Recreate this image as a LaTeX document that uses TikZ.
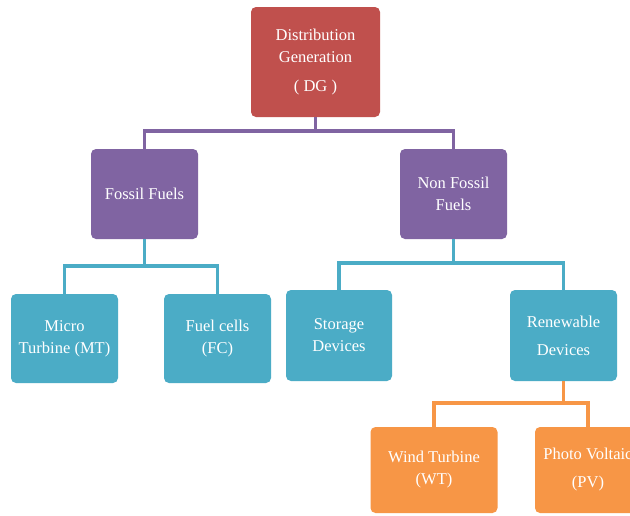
\documentclass[tikz,border=0pt]{standalone}
\usepackage{fontspec}
\setmainfont{Liberation Serif}
\definecolor{cred}{HTML}{C0504D}
\definecolor{cpurple}{HTML}{8064A2}
\definecolor{cteal}{HTML}{4BACC6}
\definecolor{corange}{HTML}{F79646}
\begin{document}
\begin{tikzpicture}[x=1pt,y=-1pt,
  box/.style={rounded corners=5pt,text=white,align=center,inner sep=0pt,
    font=\fontsize{16.5}{22}\selectfont},
  redbox/.style={box,fill=cred,minimum width=129pt,minimum height=110pt},
  purplebox/.style={box,fill=cpurple,minimum width=107pt,minimum height=90pt},
  tealbox/.style={box,fill=cteal,minimum width=107pt,minimum height=90pt},
  orangebox/.style={box,fill=corange,minimum width=127pt,minimum height=86pt},
  conn/.style={line width=3.5pt},
]
\clip (0,0) rectangle (630,515);
\fill[white] (0,0) rectangle (630,515);
\node[redbox] (dg) at (315.5,62) {Distribution\\Generation\\[7pt]( DG )};
\node[purplebox] (ff) at (144.5,194) {Fossil Fuels};
\node[purplebox] (nff) at (453.5,194) {Non Fossil\\Fuels};
\node[tealbox,minimum height=89pt] (mt) at (64.5,338.5) {Micro\\Turbine (MT)};
\node[tealbox,minimum height=89pt] (fc) at (217.5,338.5) {Fuel cells\\(FC)};
\node[tealbox,minimum height=91pt,minimum width=106pt] (sd) at (339,335.5) {Storage\\Devices};
\node[tealbox,minimum height=91pt] (rd) at (563.5,335.5) {Renewable\\[6pt]Devices};
\node[orangebox] (wt) at (434,470) {Wind Turbine\\(WT)};
\node[orangebox,minimum width=106pt] (pv) at (588,470) {Photo Voltaic\\[6pt](PV)};
% connectors
\draw[conn,cpurple] (dg.south) -- ++(0,14) coordinate (b1);
\draw[conn,cpurple] (b1) -| (ff.north);
\draw[conn,cpurple] (b1) -| (nff.north);
\draw[conn,cteal] (ff.south) -- ++(0,27) coordinate (b2);
\draw[conn,cteal] (b2) -| (mt.north);
\draw[conn,cteal] (b2) -| (fc.north);
\draw[conn,cteal] (nff.south) -- ++(0,24) coordinate (b3);
\draw[conn,cteal] (b3) -| (sd.north);
\draw[conn,cteal] (b3) -| (rd.north);
\draw[conn,corange] (rd.south) -- ++(0,22) coordinate (b4);
\draw[conn,corange] (b4) -| (wt.north);
\draw[conn,corange] (b4) -| (pv.north);
\end{tikzpicture}
\end{document}
